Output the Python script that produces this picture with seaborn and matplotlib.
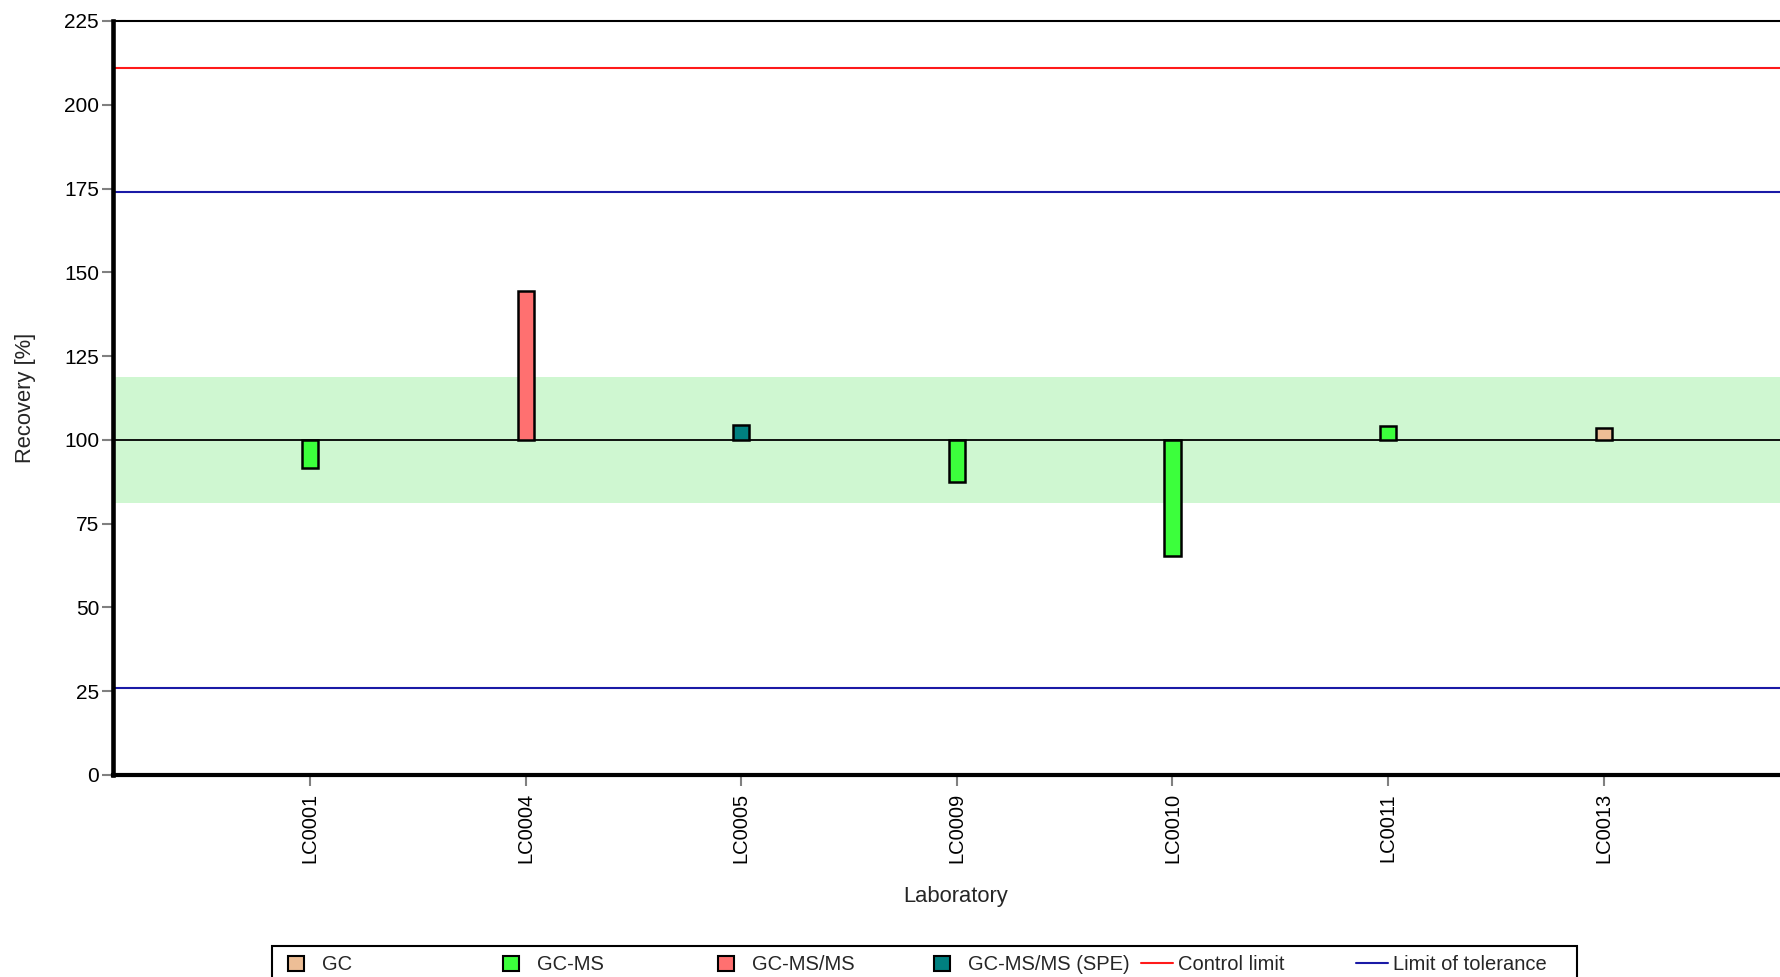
import matplotlib
matplotlib.use("Agg")
import matplotlib.pyplot as plt
import pandas as pd
import seaborn as sns
from matplotlib.patches import Patch, Rectangle
from matplotlib.lines import Line2D

# ---- data -------------------------------------------------------------
laboratories = ["LC0001", "LC0004", "LC0005", "LC0009", "LC0010", "LC0011", "LC0013"]
methods = ["GC-MS", "GC-MS/MS", "GC-MS/MS (SPE)", "GC-MS", "GC-MS", "GC-MS", "GC"]
recovery = [91.5, 144.5, 104.3, 87.5, 65.3, 104.2, 103.6]

method_order = ["GC", "GC-MS", "GC-MS/MS", "GC-MS/MS (SPE)"]
method_colors = ["#EDBE96", "#3CFF3C", "#FF7070", "#008080"]

target = 100
acceptance_band = [81.3, 118.7]
control_limit = 211
tolerance_limits = [26, 174]
y_ticks = list(range(0, 226, 25))

# ---- style ------------------------------------------------------------
sns.set_theme(style="white")
plt.rcParams["font.family"] = ["Liberation Sans", "DejaVu Sans"]

df = pd.DataFrame({"Laboratory": laboratories, "Method": methods, "Recovery": recovery})
df["Deviation"] = df["Recovery"] - target

W, H = 1781, 977
fig = plt.figure(figsize=(W / 100, H / 100), dpi=100)
ax = fig.add_axes([113 / W, 1 - 775 / H, (1799 - 113) / W, (775 - 21) / H])

# reference band and limit lines
ax.axhspan(*acceptance_band, color="#CFF7D1", lw=0, zorder=0)
ax.axhline(target, color="black", lw=1.3, zorder=1)
ax.axhline(control_limit, color="#FF1A1A", lw=1.5, zorder=1)
for lim in tolerance_limits:
    ax.axhline(lim, color="#1A1AA6", lw=1.5, zorder=1)

# bars start at the target value and run to the laboratory's recovery
sns.barplot(
    data=df, x="Laboratory", y="Deviation", hue="Method",
    hue_order=method_order, palette=dict(zip(method_order, method_colors)),
    order=laboratories, dodge=False, width=0.075, bottom=target,
    saturation=1, errorbar=None, edgecolor="black", linewidth=1.8,
    legend=False, ax=ax, zorder=3,
)

ax.set_xlim(-0.914, 6.906)
ax.set_ylim(0, 225)
ax.set_yticks(y_ticks)

for side, lw in [("left", 3.3), ("bottom", 3.0), ("top", 1.5)]:
    ax.spines[side].set_visible(True)
    ax.spines[side].set_color("black")
    ax.spines[side].set_linewidth(lw)
ax.spines["right"].set_visible(False)

ax.tick_params(axis="both", direction="out", length=8, width=1.5,
               color="#808080", labelsize=14.5, labelcolor="black",
               bottom=True, left=True)
ax.tick_params(axis="x", pad=5, labelrotation=90)
ax.tick_params(axis="y", pad=2, labelsize=15)

ax.set_xlabel("Laboratory", fontsize=15.8, labelpad=16.5)
ax.set_ylabel("Recovery [%]", fontsize=15.8, labelpad=20.5)

# ---- legend: evenly spaced entries inside one frame -------------------
legend_items = [Patch(facecolor=c, edgecolor="black", linewidth=1.5) for c in method_colors]
legend_items += [Line2D([], [], color="#FF1A1A", lw=1.5),
                 Line2D([], [], color="#1A1AA6", lw=1.5)]
legend_labels = method_order + ["Control limit", "Limit of tolerance"]

legend_fs = 14.5
fs_px = legend_fs * 100 / 72
y_mid = 1 - 965 / H
for i, (h, lab) in enumerate(zip(legend_items, legend_labels)):
    center = 296 + 215.2 * i
    if isinstance(h, Patch):
        hl, hh, tp = 16 / fs_px, 16 / fs_px, 18 / fs_px
    else:
        hl, hh, tp = 32 / fs_px, 16 / fs_px, 5 / fs_px
    left = center - hl * fs_px / 2
    fig.legend([h], [lab], loc="center left", bbox_to_anchor=(left / W, y_mid),
               frameon=False, borderpad=0, borderaxespad=0, fontsize=legend_fs,
               handlelength=hl, handleheight=hh, handletextpad=tp)

fig.add_artist(Rectangle((272 / W, -0.05), (1577 - 272) / W, 0.05 + (1 - 946 / H),
                         transform=fig.transFigure, fill=False, edgecolor="black",
                         linewidth=1.5, clip_on=False))

fig.savefig("out.png", dpi=100)
